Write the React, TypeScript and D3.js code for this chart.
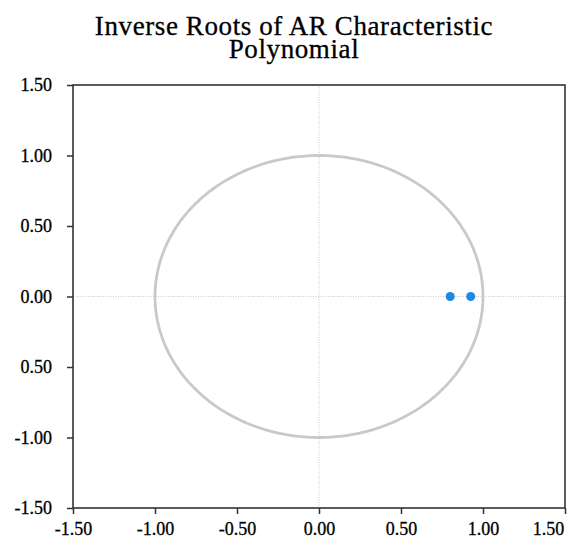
import React, { useEffect, useRef } from "react";
import * as d3 from "d3";

// inverse roots (real, imaginary)
const rootRe = [0.8, 0.925];
const rootIm = [0, 0];
const xTicks = [-1.5, -1.0, -0.5, 0, 0.5, 1.0, 1.5];
const yTicks = [1.5, 1.0, 0.5, 0, -0.5, -1.0, -1.5];
const yTickLabels = ["1.50", "1.00", "0.50", "0.00", "0.50", "-1.00", "-1.50"];
const titleLines = ["Inverse Roots of AR Characteristic", "Polynomial"];

function App() {
  const ref = useRef<SVGSVGElement>(null);

  useEffect(() => {
    const width = 568;
    const height = 538;
    const marginLeft = 73;
    const marginRight = 3;
    const marginTop = 85;
    const marginBottom = 30;
    const font = "'Liberation Serif', 'Times New Roman', serif";

    const svg = d3.select(ref.current!);
    svg.selectAll("*").remove();

    const x = d3.scaleLinear([-1.5, 1.5], [marginLeft, width - marginRight]);
    const y = d3.scaleLinear([-1.5, 1.5], [height - marginBottom, marginTop]);

    // title
    svg.append("g")
      .selectAll("text")
      .data(titleLines)
      .join("text")
      .attr("x", 294)
      .attr("y", (d, i) => 35 + i * 23)
      .attr("text-anchor", "middle")
      .attr("font-family", font)
      .attr("font-size", 27)
      .attr("letter-spacing", 0.6)
      .attr("fill", "#000")
      .attr("stroke", "#000")
      .attr("stroke-width", 0.3)
      .text(d => d);

    // zero lines
    svg.append("line")
      .attr("x1", x(-1.5)).attr("x2", x(1.5))
      .attr("y1", y(0)).attr("y2", y(0))
      .attr("stroke", "#c8c8c8").attr("stroke-width", 1)
      .attr("stroke-dasharray", "1,1.5");
    svg.append("line")
      .attr("x1", x(0)).attr("x2", x(0))
      .attr("y1", y(-1.5)).attr("y2", y(1.5))
      .attr("stroke", "#c8c8c8").attr("stroke-width", 1)
      .attr("stroke-dasharray", "1,1.5");

    // unit circle
    const circle = d3.range(0, 361).map(a => [Math.cos(a * Math.PI / 180), Math.sin(a * Math.PI / 180)]);
    svg.append("path")
      .attr("d", d3.line<number[]>().x(d => x(d[0])).y(d => y(d[1]))(circle))
      .attr("fill", "none")
      .attr("stroke", "#c9c9c9")
      .attr("stroke-width", 2.8);

    // frame
    svg.append("rect")
      .attr("x", x(-1.5)).attr("y", y(1.5))
      .attr("width", x(1.5) - x(-1.5))
      .attr("height", y(-1.5) - y(1.5))
      .attr("fill", "none")
      .attr("stroke", "#333")
      .attr("stroke-width", 1.6);

    // axes
    const yAxis = d3.axisLeft(y).tickValues(yTicks).tickSize(6).tickSizeOuter(0)
      .tickFormat((d, i) => yTickLabels[i]);
    svg.append("g")
      .attr("transform", `translate(${x(-1.5)},0)`)
      .call(yAxis)
      .call(g => g.select(".domain").remove())
      .call(g => g.selectAll(".tick line").attr("stroke", "#333").attr("stroke-width", 1.5))
      .call(g => g.selectAll(".tick text")
        .attr("x", -21)
        .attr("font-family", font).attr("font-size", 18).attr("fill", "#000")
        .attr("stroke", "#000").attr("stroke-width", 0.3));

    const xAxis = d3.axisBottom(x).tickValues(xTicks).tickSize(6).tickSizeOuter(0)
      .tickFormat(d => d3.format(".2f")(d as number).replace("−", "-"));
    svg.append("g")
      .attr("transform", `translate(0,${y(-1.5)})`)
      .call(xAxis)
      .call(g => g.select(".domain").remove())
      .call(g => g.selectAll(".tick line").attr("stroke", "#333").attr("stroke-width", 1.5))
      .call(g => g.selectAll(".tick text")
        .attr("y", 14)
        .attr("dx", (d, i) => (i === xTicks.length - 1 ? -17 : 0))
        .attr("font-family", font).attr("font-size", 18).attr("fill", "#000")
        .attr("stroke", "#000").attr("stroke-width", 0.3));

    // roots
    svg.append("g")
      .selectAll("circle")
      .data(rootRe)
      .join("circle")
      .attr("cx", d => x(d))
      .attr("cy", (d, i) => y(rootIm[i]))
      .attr("r", 4.5)
      .attr("fill", "#1e88e5");
  }, []);

  return (
    <svg
      ref={ref}
      width={568}
      height={538}
      style={{ position: "absolute", left: 0, top: 0, background: "#fff" }}
    />
  );
}

export default App;
